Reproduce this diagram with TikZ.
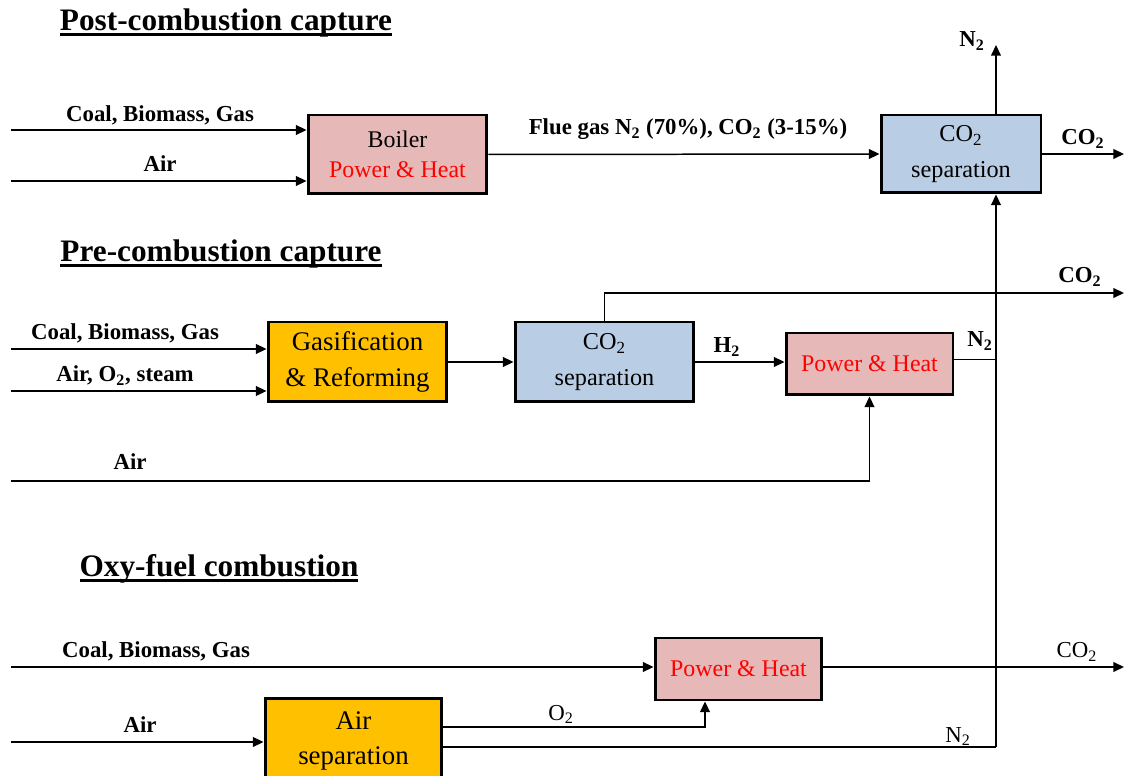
\documentclass[tikz,border=0pt]{standalone}
\usepackage{fontspec}
\setmainfont{Liberation Serif}
\usetikzlibrary{arrows.meta}
\definecolor{boilpink}{HTML}{E6B9B8}
\definecolor{sepblue}{HTML}{B9CDE5}
\definecolor{gasorange}{HTML}{FFC000}
\newcommand\ttlrule[1]{\setbox0\hbox{#1}\rlap{\rule[-2.8pt]{\wd0}{1.5pt}}\box0}
\tikzset{
  unit/.style={draw, line width=1.7pt, inner sep=0pt, align=center, font=\fontsize{13.6}{17}\selectfont},
  bigunit/.style={unit, font=\fontsize{15.3}{20}\selectfont},
  sepunit/.style={unit, fill=sepblue, minimum width=3.58cm, minimum height=1.6cm, font=\fontsize{13.8}{20.5}\selectfont},
  flow/.style={line width=0.85pt, -{Triangle[length=6pt,width=5.5pt]}},
  pipe/.style={line width=0.85pt},
  lbl/.style={anchor=base, inner sep=0pt, font=\fontsize{13}{15}\selectfont\bfseries},
  plainlbl/.style={anchor=base, inner sep=0pt, font=\fontsize{13}{15}\selectfont},
  ttl/.style={anchor=base, inner sep=0pt, font=\fontsize{17.8}{22}\selectfont\bfseries},
}

\begin{document}
\begin{tikzpicture}[x=0.02cm, y=-0.02cm]
  \useasboundingbox (0,0) rectangle (1126,776);

  % titles
  \node[ttl] (tpost) at (226,31) {\ttlrule{Post-combustion capture}};
  \node[ttl] (tpre) at (221,262) {\ttlrule{Pre-combustion capture}};
  \node[ttl] (toxy) at (219,577) {\ttlrule{Oxy-fuel combustion}};

  % post-combustion
  \node[unit, fill=boilpink, minimum width=3.58cm, minimum height=1.58cm] (boiler) at (397.5,154.5)
    {Boiler\\\textcolor{red}{Power \& Heat}};
  \node[sepunit, minimum width=3.2cm, minimum height=1.56cm] (sepA) at (961,154) {CO\textsubscript{2}\\separation};
  \coordinate (coalA) at (11,130);
  \coordinate (airA) at (11,181);
  \coordinate (nA) at (996,45);
  \coordinate (co2A) at (1124,154);
  \draw[flow] (coalA) -- (coalA -| boiler.west);
  \draw[flow] (airA) -- (airA -| boiler.west);
  \draw[flow] (boiler.east) -- (sepA.west);
  \draw[flow] (sepA.north -| nA) -- (nA);
  \draw[flow] (sepA.east) -- (co2A);
  \node[lbl] (lcoalA) at (160,122) {Coal, Biomass, Gas};
  \node[lbl] (lairA) at (160,172) {Air};
  \node[lbl] (lflue) at (688,135) {Flue gas N\textsubscript{2} (70\%), CO\textsubscript{2} (3-15\%)};
  \node[lbl] (lnA) at (972,47) {N\textsubscript{2}};
  \node[lbl] (lco2A) at (1083,145) {CO\textsubscript{2}};

  % pre-combustion
  \node[bigunit, fill=gasorange, minimum width=3.58cm, minimum height=1.6cm] (gasif) at (357.5,362)
    {Gasification\\\& Reforming};
  \node[sepunit] (sepB) at (604.5,362) {CO\textsubscript{2}\\separation};
  \node[unit, fill=boilpink, minimum width=3.34cm, minimum height=1.24cm] (phB) at (869.5,364)
    {\textcolor{red}{Power \& Heat}};
  \coordinate (coalB) at (11,349);
  \coordinate (feedB) at (11,391);
  \coordinate (co2B) at (1124,293);
  \coordinate (airB) at (11,481);
  \coordinate (trunk) at (996,747);
  \draw[flow] (coalB) -- (coalB -| gasif.west);
  \draw[flow] (feedB) -- (feedB -| gasif.west);
  \draw[flow] (gasif) -- (sepB);
  \draw[flow] (sepB.north) |- (co2B);
  \draw[flow] (sepB.east) -- (sepB.east -| phB.west);
  \draw[pipe] ([yshift=2.5pt]phB.east) -- ([yshift=2.5pt]phB.east -| trunk);
  \draw[flow] (airB) -| (phB.south);
  \node[lbl] (lcoalB) at (125,340) {Coal, Biomass, Gas};
  \node[lbl] (lfeedB) at (125,382) {Air, O\textsubscript{2}, steam};
  \node[lbl] (lco2B) at (1080,283) {CO\textsubscript{2}};
  \node[lbl] (lh2) at (727,353) {H\textsubscript{2}};
  \node[lbl] (lnB) at (980,347) {N\textsubscript{2}};
  \node[lbl] (lairB) at (130,470) {Air};

  % oxy-fuel
  \node[unit, fill=boilpink, minimum width=3.34cm, minimum height=1.24cm] (phC) at (738.5,669)
    {\textcolor{red}{Power \& Heat}};
  \node[bigunit, fill=gasorange, minimum width=3.54cm, minimum height=1.72cm] (airsep) at (353.5,741)
    {Air\\separation};
  \coordinate (coalC) at (11,667);
  \coordinate (airC) at (11,742);
  \coordinate (o2C) at (705,727);
  \coordinate (co2C) at (1124,667);
  \draw[flow] (coalC) -- (coalC -| phC.west);
  \draw[flow] (airC) -- (airC -| airsep.west);
  \draw[flow] (airsep.east |- o2C) -| (phC.south -| o2C);
  \draw[pipe] (airsep.east |- trunk) -- (trunk);
  \draw[flow] (trunk) -- (trunk |- sepA.south);
  \draw[flow] (phC.east |- co2C) -- (co2C);
  \node[lbl] (lcoalC) at (156,658) {Coal, Biomass, Gas};
  \node[lbl] (lairC) at (140,732) {Air};
  \node[plainlbl] (lo2C) at (561,720) {O\textsubscript{2}};
  \node[plainlbl] (lnC) at (958,742) {N\textsubscript{2}};
  \node[plainlbl] (lco2C) at (1077,658) {CO\textsubscript{2}};
\end{tikzpicture}
\end{document}
